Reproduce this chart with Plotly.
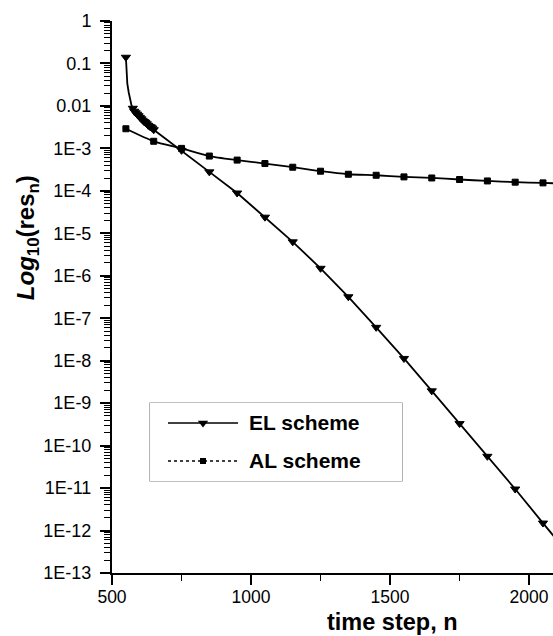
import plotly.graph_objects as go

# Residual history of the EL scheme (time step n, residual)
el_n = [550, 555, 560, 565, 570, 575, 580, 585, 590, 595, 600, 605, 610, 615,
        620, 625, 630, 635, 640, 645, 650,
        750, 850, 950, 1050, 1150, 1250, 1350, 1450, 1550, 1650, 1750, 1850,
        1950, 2050, 2100]
el_res = [0.14, 0.034, 0.021, 0.0136, 0.0104, 0.0088, 0.0075, 0.0069, 0.0064,
          0.0059, 0.0054, 0.0050, 0.0046, 0.0043, 0.0041, 0.0038, 0.0035,
          0.0033, 0.0032, 0.0030, 0.00275,
          9.0e-4, 2.8e-4, 8.9e-5, 2.4e-5, 6.3e-6, 1.5e-6, 3.2e-7, 6.1e-8,
          1.13e-8, 1.95e-9, 3.3e-10, 5.6e-11, 9.5e-12, 1.5e-12, 6.0e-13]

# Residual history of the AL scheme
al_n = [550, 650, 750, 850, 950, 1050, 1150, 1250, 1350, 1450, 1550, 1650,
        1750, 1850, 1950, 2050, 2100]
al_res = [2.9e-3, 1.47e-3, 1.0e-3, 6.6e-4, 5.3e-4, 4.4e-4, 3.6e-4, 2.9e-4,
          2.46e-4, 2.33e-4, 2.13e-4, 2.01e-4, 1.85e-4, 1.71e-4, 1.6e-4,
          1.54e-4, 1.5e-4]

series_names = ["EL scheme", "AL scheme"]

# Axis ticks
x_ticks = [500, 1000, 1500, 2000]
y_exponents = list(range(0, -14, -1))
y_ticktext = ["1", "0.1", "0.01", "1E-3", "1E-4", "1E-5", "1E-6", "1E-7",
              "1E-8", "1E-9", "1E-10", "1E-11", "1E-12", "1E-13"]

FONT = "Arial, 'Liberation Sans', sans-serif"
BLACK = "#000000"

y_tickvals = [10.0 ** e for e in y_exponents]
y_minor = [k * 10.0 ** e for e in range(-13, 0) for k in range(2, 10)]


def marker_sizes(n_values, size, bare):
    """Marker size per point; points listed in `bare` carry no marker."""
    return [0 if n in bare else size for n in n_values]


# the steep initial drop and the trailing segment carry no markers
el_sizes = marker_sizes(el_n, 8, {555, 560, 565, 570, 2100})
al_sizes = marker_sizes(al_n, 6, {2100})

fig = go.Figure()

fig.add_trace(go.Scatter(
    x=el_n, y=el_res, mode="lines+markers", name=series_names[0],
    line=dict(color=BLACK, width=1.8),
    marker=dict(symbol="triangle-down", size=el_sizes, color=BLACK,
                opacity=1, line=dict(color=BLACK, width=1)),
    showlegend=False,
))
fig.add_trace(go.Scatter(
    x=al_n, y=al_res, mode="lines+markers", name=series_names[1],
    line=dict(color=BLACK, width=1.8, shape="spline", smoothing=0.6),
    marker=dict(symbol="square", size=al_sizes, color=BLACK,
                opacity=1, line=dict(color=BLACK, width=1)),
    showlegend=False,
))

# Boxed key drawn on its own small axes (units are the box's pixel frame)
key_rows = [423, 461]
key_styles = [("solid", "triangle-down", 9), ("dot", "square", 6)]
for row, name, (dash, sym, msize) in zip(key_rows, series_names, key_styles):
    fig.add_trace(go.Scatter(
        x=[168, 238], y=[row, row], mode="lines", xaxis="x2", yaxis="y2",
        line=dict(color=BLACK, width=1.4, dash=dash),
        showlegend=False, hoverinfo="skip",
    ))
    fig.add_trace(go.Scatter(
        x=[203], y=[row], mode="markers", xaxis="x2", yaxis="y2",
        marker=dict(symbol=sym, size=msize, color=BLACK, opacity=1),
        showlegend=False, hoverinfo="skip",
    ))
    fig.add_annotation(
        x=247, y=row, xref="x2", yref="y2", text=f"<b>{name}</b>",
        showarrow=False, xanchor="left", yanchor="middle",
        font=dict(family=FONT, size=21, color=BLACK),
    )

fig.add_shape(
    type="rect", xref="x2 domain", yref="y2 domain", x0=0, x1=1, y0=0, y1=1,
    line=dict(color="#808080", width=1.2), fillcolor="rgba(255,255,255,0)",
    layer="below",
)

fig.update_layout(
    width=553, height=636,
    margin=dict(l=112, r=0, t=21, b=63),
    paper_bgcolor="white", plot_bgcolor="white",
    showlegend=False,
    font=dict(family=FONT, size=18, color=BLACK),
    xaxis=dict(
        type="linear", range=[500, 2086],
        tickmode="array", tickvals=x_ticks,
        ticks="outside", ticklen=10, tickwidth=1.6, tickcolor=BLACK,
        showline=True, linecolor=BLACK, linewidth=2, mirror=False,
        showgrid=False, zeroline=False,
        tickfont=dict(family=FONT, size=17.5, color=BLACK),
        ticklabelstandoff=-3,
        minor=dict(ticks="outside", ticklen=6, tickwidth=1.4,
                   tickcolor=BLACK, dtick=250, showgrid=False),
    ),
    yaxis=dict(
        type="log", range=[-13, 0],
        tickmode="array", tickvals=y_tickvals, ticktext=y_ticktext,
        ticks="outside", ticklen=10, tickwidth=1.6, tickcolor=BLACK,
        showline=True, linecolor=BLACK, linewidth=2, mirror=False,
        showgrid=False, zeroline=False,
        tickfont=dict(family=FONT, size=18, color=BLACK),
        ticklabelstandoff=5,
        minor=dict(ticks="outside", ticklen=6, tickwidth=1,
                   tickcolor=BLACK, tickmode="array", tickvals=y_minor,
                   showgrid=False),
    ),
    xaxis2=dict(domain=[0.0862, 0.6576], range=[150, 402], visible=False,
                anchor="y2", fixedrange=True),
    yaxis2=dict(domain=[0.1667, 0.308], range=[481, 403], visible=False,
                anchor="x2", fixedrange=True),
)

# Axis titles
fig.add_annotation(
    x=0.635, y=-0.089, xref="paper", yref="paper",
    text="<b>time step, n</b>", showarrow=False,
    xanchor="center", yanchor="middle",
    font=dict(family=FONT, size=23.5, color=BLACK),
)
fig.add_annotation(
    x=-0.19, y=0.607, xref="paper", yref="paper",
    text="<b><i>Log</i><sub>10</sub>(res<sub>n</sub>)</b>", showarrow=False,
    textangle=-90, xanchor="center", yanchor="middle",
    font=dict(family=FONT, size=24, color=BLACK),
)

fig.write_html("out.html")
